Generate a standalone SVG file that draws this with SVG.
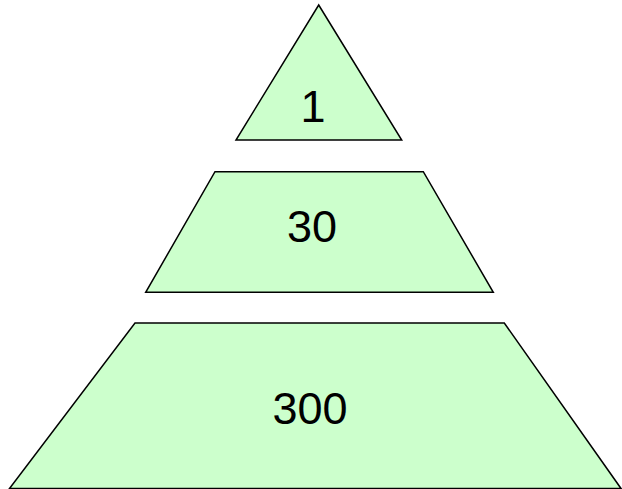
<svg xmlns="http://www.w3.org/2000/svg" width="622" height="489" viewBox="0 0 622 489">
<style>
.shape{fill:#CCFFCC;stroke:#000;stroke-width:1.5;stroke-linejoin:miter}
.lbl{font-family:"Liberation Sans",Arial,sans-serif;font-size:45px;fill:#000;text-anchor:middle}
</style>
<rect width="622" height="489" fill="#fff"/>
<g id="top">
<polygon class="shape" points="318.7,5 401.7,140 236,140"/>
<text class="lbl" x="313" y="122">1</text>
</g>
<g id="middle">
<polygon class="shape" points="215,171.7 423.3,171.7 493.3,292.3 145.7,292.3"/>
<text class="lbl" x="312" y="242">30</text>
</g>
<g id="bottom">
<polygon class="shape" points="135,323 504.3,323 621,488.5 9.5,488.5"/>
<text class="lbl" x="310" y="424">300</text>
</g>
<g id="connectors"/>
</svg>
